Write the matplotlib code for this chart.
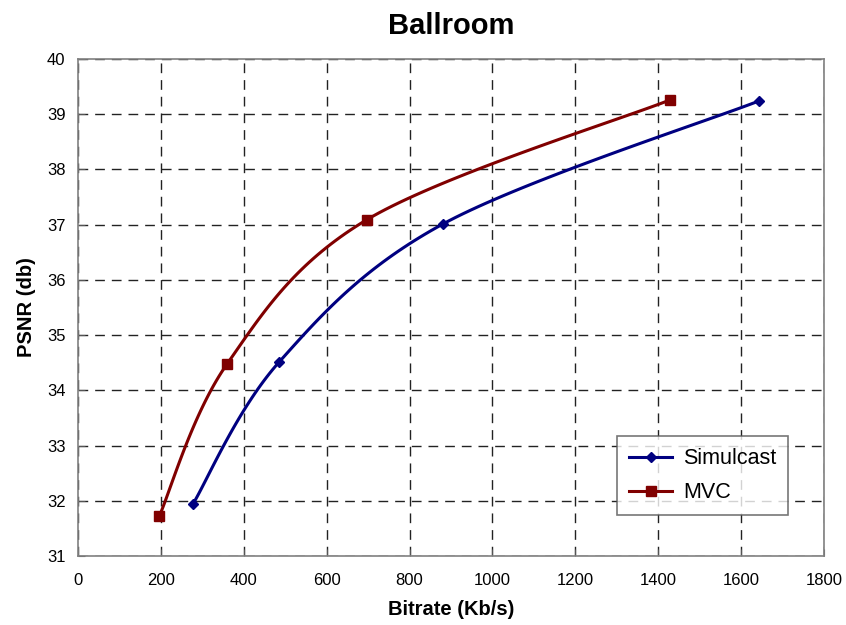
import numpy as np
import matplotlib.pyplot as plt

plt.rcParams['font.family'] = ['Liberation Sans', 'DejaVu Sans']

# data
simulcast_rate = [278, 485, 880, 1643]
simulcast_psnr = [31.95, 34.51, 37.01, 39.24]
mvc_rate = [196, 359, 697, 1429]
mvc_psnr = [31.72, 34.47, 37.09, 39.26]

x_ticks = list(range(0, 1801, 200))
y_ticks = list(range(31, 41))


def smooth(xs, ys, n=40):
    """Excel-like smoothed line: cubic Bezier through the points."""
    p = np.column_stack([xs, ys]).astype(float)
    ext = np.vstack([p[0], p, p[-1]])
    out = []
    t = np.linspace(0, 1, n)[:, None]
    for i in range(len(p) - 1):
        p0, p3 = ext[i + 1], ext[i + 2]
        c1 = p0 + (ext[i + 2] - ext[i]) / 6.0
        c2 = p3 - (ext[i + 3] - ext[i + 1]) / 6.0
        seg = ((1 - t) ** 3) * p0 + 3 * ((1 - t) ** 2) * t * c1 \
            + 3 * (1 - t) * t ** 2 * c2 + t ** 3 * p3
        out.append(seg)
    seg = np.vstack(out)
    return seg[:, 0], seg[:, 1]


fig = plt.figure(figsize=(8.46, 6.25), dpi=100)
ax = fig.add_axes([78 / 846, 1 - 556 / 625, (824 - 78) / 846, (556 - 59) / 625])

series = [
    ('Simulcast', simulcast_rate, simulcast_psnr, '#000080', 'D', 5),
    ('MVC', mvc_rate, mvc_psnr, '#800000', 's', 7.5),
]
for name, xs, ys, col, mk, ms in series:
    sx, sy = smooth(xs, ys)
    ax.plot(sx, sy, color=col, lw=2.2, zorder=3)
    ax.plot(xs, ys, linestyle='none', marker=mk, ms=ms, color=col, zorder=4)
    ax.plot([], [], color=col, lw=2.2, marker=mk, ms=ms, label=name)

ax.set_xlim(0, 1800)
ax.set_ylim(31, 40)
ax.set_xticks(x_ticks)
ax.set_yticks(y_ticks)
ax.grid(True, color='#222222', linestyle=(0, (7, 5)), lw=1)
ax.tick_params(direction='in', length=5, color='#555555', labelsize=12,
               pad=12)
ax.tick_params(axis='y', pad=9)
for s in ax.spines.values():
    s.set_color('#808080')
    s.set_linewidth(1.2)

ax.set_title('Ballroom', fontsize=21, fontweight='bold', pad=18)
ax.set_xlabel('Bitrate (Kb/s)', fontsize=14.5, fontweight='bold', labelpad=9)
ax.set_ylabel('PSNR (db)', fontsize=14.5, fontweight='bold', labelpad=8)

leg = ax.legend(loc='lower right', bbox_to_anchor=(0.952, 0.0825),
                borderaxespad=0, fontsize=15.5, frameon=True, fancybox=False,
                edgecolor='#555555', handlelength=2.0, borderpad=0.55,
                labelspacing=0.6, handletextpad=0.5)
leg.get_frame().set_linewidth(1.2)

fig.savefig('out.png', dpi=100)
